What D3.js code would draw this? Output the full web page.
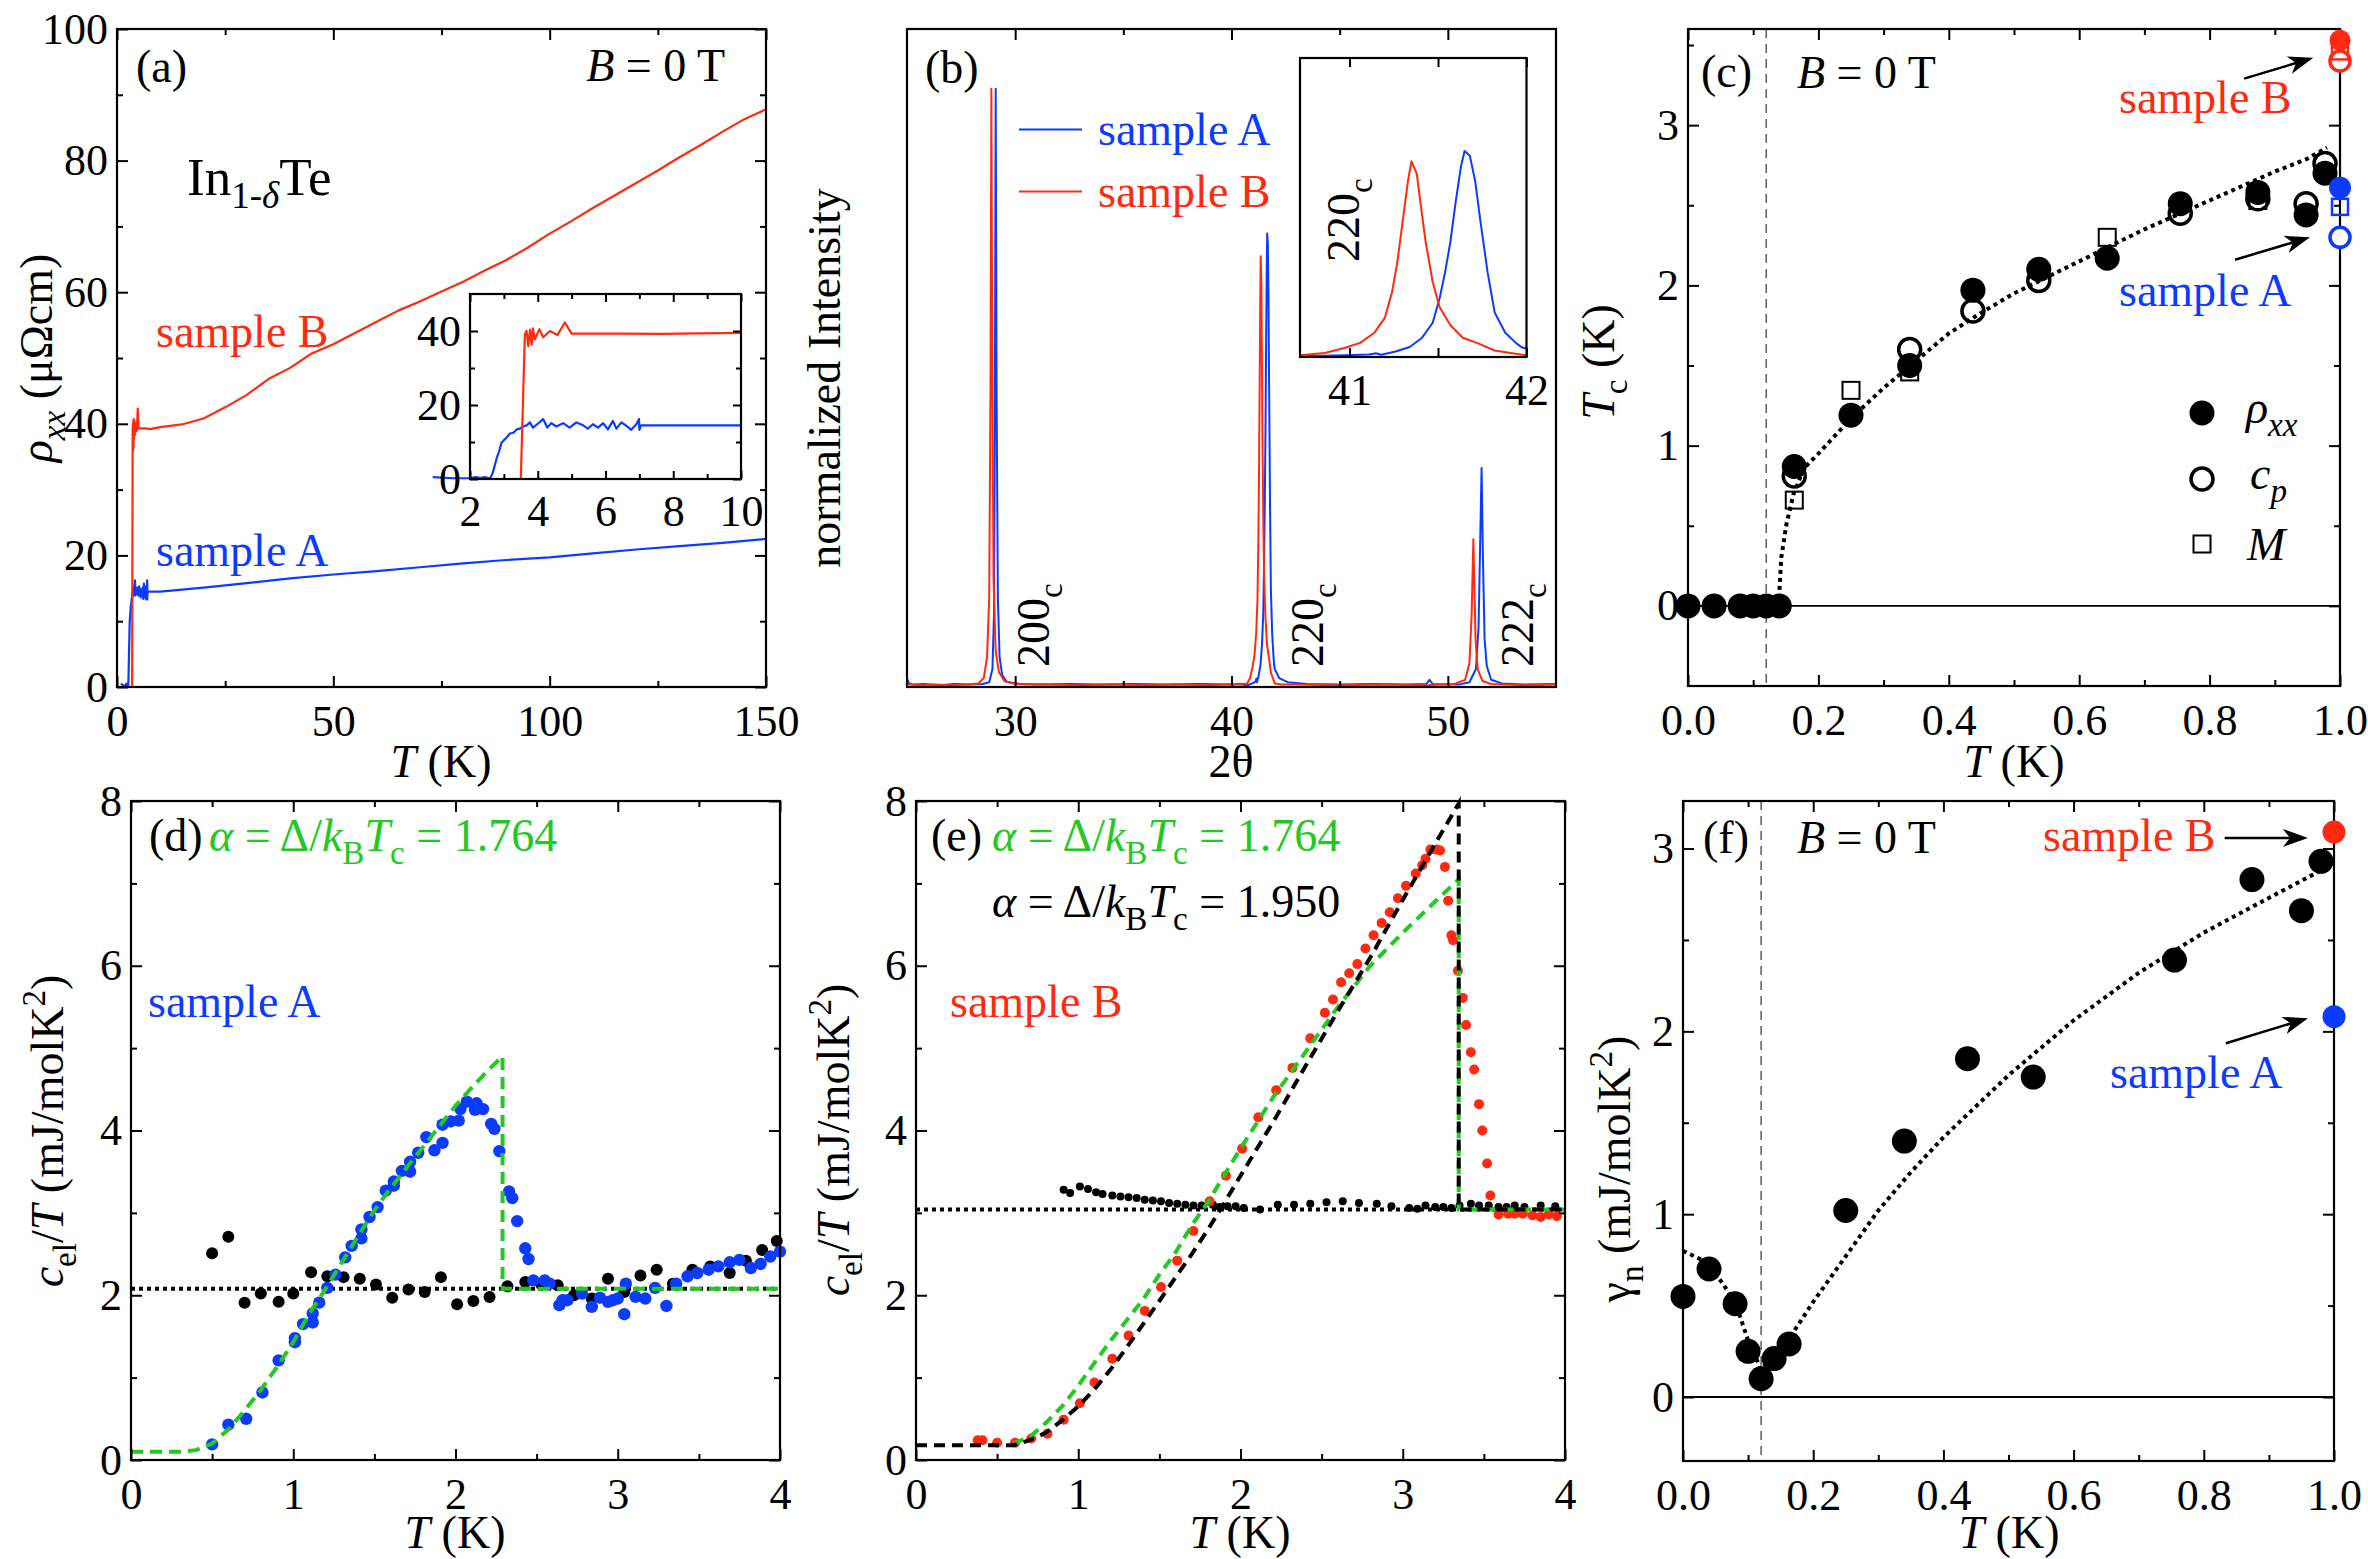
<!DOCTYPE html>
<html><head><meta charset="utf-8">
<script src="https://cdn.jsdelivr.net/npm/d3@7"></script>
<style>
html,body{margin:0;padding:0;background:#fff;}
svg{display:block;}
</style></head><body>
<svg id="chart" width="2368" height="1559"></svg>
<script>
// ================= DATA =================
// (a) rho_xx vs T  [T (K), rho (μΩcm)]
const rhoA_low = [[0.9,0.5],[1.5,0.2],[2.0,0.2],[2.15,0.5],[2.3,0.3],[2.45,0.5],[2.59,0.1],[2.67,1.6],[2.79,5.7],[2.86,7.5],[2.93,9.8],[3.0,10.5],[3.08,11.2],[3.18,12.3],[3.28,12.5],[3.38,13.4],[3.47,13.6],[3.57,14.2],[3.67,14.5],[3.77,15.3],[3.86,13.9],[4.01,15.0],[4.16,16.2],[4.28,13.9],[4.40,15.1],[4.55,14.2],[4.75,15.1],[4.94,13.9],[5.14,15.3],[5.34,14.5],[5.48,13.6],[5.63,14.8],[5.78,13.9],[5.93,15.1],[6.07,13.4],[6.22,15.7],[6.32,13.6],[6.47,15.3],[6.61,14.4],[6.76,13.3],[6.91,14.8],[6.99,16.2],[7.0,13.3],[7.05,14.5],[10,14.5]];
const rhoA_high = [[15,14.8],[20,15.1],[30,15.8],[40,16.5],[50,17.1],[60,17.6],[70,18.2],[80,18.8],[90,19.3],[100,19.7],[110,20.3],[120,20.9],[130,21.4],[140,21.9],[150,22.5]];
const rhoB_low = [[3.5,0],[3.62,39.1],[3.67,40.0],[3.72,35.9],[3.77,40.4],[3.82,36.3],[3.86,40.7],[3.91,37.7],[3.98,39.1],[4.05,40.5],[4.16,38.3],[4.36,40.0],[4.58,38.9],[4.80,42.3],[5.0,39.3],[6.6,39.3],[7.6,39.2],[10,39.5]];
const rhoB_high = [[15,39.9],[20,40.8],[25,42.5],[30,44.4],[35,46.8],[40,48.5],[45,50.7],[50,52.1],[55,53.8],[60,55.5],[65,57.2],[70,58.6],[75,60.1],[80,61.6],[85,63.3],[90,64.9],[95,66.8],[100,68.9],[105,70.8],[110,72.8],[115,74.7],[120,76.6],[125,78.5],[130,80.5],[135,82.4],[140,84.4],[145,86.3],[150,87.8]];

// (b) XRD [2θ, normalized intensity]
const xrdA_lo = [[25.0,0.014],[25.1,0.006],[25.3,0.004],[25.8,0.005],[26.5,0.003],[27.2,0.005],[27.9,0.004],[28.5,0.005],[28.8,0.008],[28.95,0.03],[29.02,0.12],[29.06,0.45],[29.1,1.0],[29.14,0.5],[29.2,0.15],[29.28,0.05],[29.4,0.02],[29.6,0.009],[30.2,0.005],[31,0.004],[32.5,0.005],[34,0.004],[35.5,0.005],[37,0.004],[38.5,0.005],[40,0.004],[40.5,0.004]];
const xrdA_220 = [[40.72,0.003],[40.97,0.006],[41.11,0.009],[41.15,0.014],[41.18,0.008],[41.26,0.02],[41.34,0.037],[41.41,0.071],[41.47,0.126],[41.51,0.219],[41.54,0.312],[41.57,0.424],[41.60,0.572],[41.63,0.702],[41.65,0.758],[41.68,0.74],[41.71,0.647],[41.74,0.498],[41.78,0.312],[41.82,0.164],[41.88,0.089],[41.94,0.052],[41.97,0.037],[42.0,0.03]];
const xrdA_hi = [[42.2,0.015],[42.6,0.008],[43.5,0.005],[45,0.004],[46.5,0.005],[48,0.004],[49.0,0.005],[49.15,0.012],[49.3,0.005],[50.5,0.004],[51.0,0.008],[51.3,0.03],[51.42,0.1],[51.5,0.25],[51.56,0.366],[51.62,0.22],[51.7,0.08],[51.8,0.035],[52.0,0.012],[52.5,0.006],[53.5,0.004],[55,0.005]];
const xrdB_lo = [[25.0,0.005],[25.5,0.003],[26.3,0.004],[27,0.003],[27.8,0.004],[28.3,0.006],[28.55,0.015],[28.7,0.05],[28.8,0.15],[28.86,0.5],[28.9,1.0],[28.94,0.55],[29.0,0.18],[29.1,0.06],[29.25,0.025],[29.5,0.01],[30,0.005],[31.5,0.004],[33,0.003],[34.5,0.004],[36,0.003],[37.5,0.004],[39,0.003],[40.2,0.005]];
const xrdB_220 = [[40.72,0.006],[40.86,0.015],[40.97,0.033],[41.06,0.052],[41.14,0.089],[41.20,0.145],[41.24,0.238],[41.27,0.349],[41.30,0.498],[41.33,0.647],[41.35,0.72],[41.38,0.674],[41.40,0.572],[41.43,0.424],[41.47,0.275],[41.51,0.182],[41.57,0.117],[41.64,0.071],[41.72,0.052],[41.82,0.024],[41.91,0.015],[42.0,0.006]];
const xrdB_hi = [[42.3,0.004],[43,0.004],[45,0.003],[47,0.004],[49,0.003],[50.3,0.005],[50.8,0.012],[51.0,0.04],[51.1,0.12],[51.15,0.2],[51.18,0.247],[51.22,0.18],[51.28,0.08],[51.38,0.03],[51.6,0.01],[52,0.005],[53.5,0.003],[55,0.004]];
const peakNames = ["200","220","222"];
const peakLabelX = [31.55, 44.25, 53.95];

// (c) Tc [x, Tc (K)]
const tcRhoX = [0.0,0.04,0.08,0.10,0.12,0.14,0.163,0.25,0.34,0.437,0.538,0.643,0.755,0.874,0.948,0.977];
const tcRhoY = [0,0,0,0,0,0,0.87,1.19,1.50,1.97,2.10,2.17,2.51,2.58,2.44,2.70];
const tcCpX = [0.163,0.34,0.437,0.538,0.755,0.874,0.948,0.977];
const tcCpY = [0.81,1.60,1.84,2.03,2.45,2.54,2.51,2.76];
const tcMX = [0.163,0.25,0.34,0.643,0.874];
const tcMY = [0.66,1.345,1.46,2.30,2.53];
const tcSampleB = {rho:3.53, M:3.46, cp:3.40};
const tcSampleA = {rho:2.61, M:2.49, cp:2.30};
const tcFit = [[0.139,0.0],[0.143,0.3],[0.151,0.51],[0.162,0.70],[0.178,0.86],[0.2,0.95],[0.25,1.17],[0.3,1.36],[0.35,1.53],[0.4,1.70],[0.45,1.83],[0.5,1.95],[0.55,2.05],[0.6,2.15],[0.65,2.25],[0.7,2.35],[0.75,2.44],[0.8,2.53],[0.85,2.62],[0.9,2.71],[0.95,2.79],[0.98,2.86]];

// (d) sample A c_el/T [T (K), mJ/molK^2]
const dBlue = [[0.50,0.19],[0.60,0.43],[0.71,0.50],[0.81,0.82],[0.91,1.21],[1.01,1.48],[1.01,1.43],[1.06,1.65],[1.12,1.67],[1.12,1.78],[1.16,1.91],[1.21,2.09],[1.26,2.25],[1.32,2.46],[1.36,2.60],[1.42,2.80],[1.42,2.69],[1.47,2.95],[1.52,3.07],[1.57,3.27],[1.62,3.38],[1.62,3.33],[1.67,3.51],[1.72,3.50],[1.72,3.62],[1.77,3.73],[1.82,3.92],[1.87,3.76],[1.92,3.85],[1.92,4.07],[1.97,4.11],[2.02,4.12],[2.03,4.26],[2.07,4.35],[2.12,4.25],[2.13,4.33],[2.17,4.26],[2.22,4.08],[2.24,4.02],[2.27,3.75],[2.33,3.26],[2.35,3.18],[2.38,2.90],[2.43,2.57],[2.45,2.44],[2.48,2.18],[2.55,2.18],[2.58,2.14],[2.64,1.88],[2.66,1.94],[2.69,1.94],[2.78,2.02],[2.84,1.86],[2.89,1.97],[2.94,1.92],[2.97,1.94],[3.00,1.96],[3.04,1.77],[3.05,2.14],[3.11,1.98],[3.17,1.96],[3.23,2.09],[3.30,1.87],[3.36,2.14],[3.43,2.23],[3.49,2.27],[3.56,2.31],[3.62,2.35],[3.69,2.40],[3.75,2.43],[3.82,2.33],[3.88,2.38],[3.94,2.47],[4.00,2.53]];
const dBlack = [[0.50,2.51],[0.60,2.71],[0.70,1.91],[0.80,2.02],[0.91,1.92],[1.00,2.02],[1.11,2.28],[1.21,2.23],[1.31,2.22],[1.41,2.20],[1.51,2.13],[1.61,1.97],[1.71,2.07],[1.81,2.04],[1.91,2.22],[2.01,1.89],[2.11,1.93],[2.21,1.98],[2.32,2.11],[2.43,2.16],[2.53,2.13],[2.63,2.12],[2.73,2.00],[2.84,1.96],[2.94,2.20],[3.04,2.04],[3.14,2.24],[3.24,2.31],[3.34,2.14],[3.46,2.31],[3.57,2.35],[3.69,2.27],[3.79,2.42],[3.89,2.55],[3.98,2.66]];
const dGammaN = 2.08;
const dBCS = [[0,0.1],[0.3,0.1],[0.4,0.12],[0.5,0.2],[0.6,0.37],[0.7,0.6],[0.8,0.85],[0.9,1.13],[1.0,1.43],[1.1,1.78],[1.2,2.08],[1.3,2.4],[1.4,2.72],[1.5,3.03],[1.6,3.3],[1.7,3.55],[1.8,3.8],[1.9,4.05],[2.0,4.3],[2.1,4.52],[2.2,4.73],[2.29,4.9],[2.29,2.08],[4.0,2.08]];

// (e) sample B
const eRed = [[0.38,0.24],[0.41,0.24],[0.50,0.21],[0.61,0.21],[0.71,0.26],[0.81,0.32],[0.91,0.49],[1.01,0.69],[1.10,0.94],[1.21,1.23],[1.31,1.51],[1.41,1.81],[1.51,2.10],[1.61,2.42],[1.71,2.78],[1.81,3.14],[1.91,3.45],[2.01,3.78],[2.11,4.16],[2.22,4.49],[2.32,4.76],[2.43,5.12],[2.52,5.43],[2.57,5.59],[2.62,5.80],[2.67,5.91],[2.72,6.02],[2.77,6.21],[2.82,6.37],[2.87,6.52],[2.92,6.65],[2.97,6.82],[3.02,6.97],[3.08,7.12],[3.12,7.22],[3.14,7.30],[3.17,7.41],[3.21,7.41],[3.23,7.40],[3.26,7.20],[3.28,6.79],[3.30,6.37],[3.31,6.31],[3.34,5.94],[3.37,5.61],[3.39,5.28],[3.42,4.95],[3.44,4.74],[3.47,4.32],[3.49,4.00],[3.52,3.60],[3.54,3.21],[3.59,2.98],[3.65,2.99],[3.69,2.99],[3.74,2.99],[3.80,2.97],[3.85,2.95],[3.90,2.98],[3.95,2.96]];
const eBlack = [[0.91,3.28],[0.95,3.24],[1.01,3.32],[1.06,3.29],[1.11,3.25],[1.15,3.23],[1.21,3.21],[1.26,3.20],[1.31,3.19],[1.36,3.18],[1.41,3.16],[1.46,3.15],[1.51,3.14],[1.56,3.12],[1.61,3.11],[1.66,3.10],[1.71,3.09],[1.76,3.09],[1.83,3.10],[1.87,3.07],[1.92,3.08],[1.97,3.08],[2.02,3.06],[2.12,3.04],[2.23,3.10],[2.33,3.10],[2.43,3.11],[2.53,3.13],[2.63,3.14],[2.73,3.12],[2.84,3.11],[2.93,3.08],[3.04,3.06],[3.09,3.05],[3.14,3.09],[3.20,3.07],[3.25,3.07],[3.30,3.06],[3.35,3.09],[3.42,3.11],[3.47,3.09],[3.53,3.09],[3.59,3.07],[3.64,3.07],[3.69,3.09],[3.75,3.07],[3.85,3.09],[3.94,3.08]];
const eGammaN = 3.04;
const eBCS1764 = [[0.6,0.2],[0.7,0.28],[0.8,0.45],[0.9,0.65],[1.0,0.9],[1.1,1.18],[1.2,1.45],[1.3,1.7],[1.4,1.95],[1.5,2.25],[1.6,2.52],[1.7,2.85],[1.8,3.13],[1.9,3.46],[2.0,3.78],[2.2,4.4],[2.4,4.95],[2.6,5.5],[2.8,6.0],[3.0,6.4],[3.2,6.78],[3.345,7.05],[3.345,3.04],[4.0,3.04]];
const eBCS1950 = [[0,0.18],[0.6,0.18],[0.7,0.24],[0.8,0.33],[0.9,0.48],[1.0,0.65],[1.1,0.86],[1.2,1.1],[1.3,1.37],[1.4,1.65],[1.5,1.93],[1.6,2.22],[1.7,2.5],[1.8,2.8],[1.9,3.12],[2.0,3.45],[2.2,4.1],[2.4,4.78],[2.6,5.45],[2.8,6.1],[3.0,6.8],[3.2,7.48],[3.345,7.97],[3.345,3.04],[4.0,3.04]];

// (f) gamma_n
const gX = [0.0,0.04,0.08,0.10,0.12,0.14,0.163,0.25,0.34,0.437,0.538,0.755,0.874,0.95,0.98];
const gY = [0.55,0.70,0.51,0.25,0.10,0.21,0.29,1.02,1.40,1.85,1.75,2.39,2.83,2.66,2.93];
const gSampleB = 3.09, gSampleA = 2.08;
const gFit = [[0.0,0.80],[0.04,0.73],[0.08,0.52],[0.10,0.31],[0.12,0.15],[0.165,0.33],[0.2,0.52],[0.25,0.77],[0.3,1.02],[0.35,1.23],[0.4,1.42],[0.5,1.76],[0.6,2.06],[0.7,2.32],[0.8,2.54],[0.9,2.73],[0.98,2.88]];

// ================= DRAWING =================
const RED="#ff2a10", BLUE="#0b3bff", GREEN="#24c824", GREY="#666";
const FONT='"Liberation Serif","Times New Roman",Times,serif';
const svg=d3.select("#chart");
svg.append("rect").attr("width",2368).attr("height",1559).attr("fill","#fff");

function panel(o){
  const x=d3.scaleLinear().domain(o.xd).range([o.x0,o.x1]);
  const y=d3.scaleLinear().domain(o.yd).range([o.y1,o.y0]);
  const root=svg.append("g");
  if(o.bg) root.append("rect").attr("x",o.x0).attr("y",o.y0).attr("width",o.x1-o.x0).attr("height",o.y1-o.y0).attr("fill","#fff");
  const data=root.append("g");
  const axes=root.append("g");
  const blank=()=>"";
  function ax(fn,sc,vals,len,tr,fmt,pad){
    if(!vals||!vals.length) return;
    const a=fn(sc).tickValues(vals).tickSize(-len).tickPadding(pad||0).tickFormat(fmt||blank);
    const g=axes.append("g").attr("transform",tr).call(a);
    g.select(".domain").remove();
    g.selectAll(".tick line").attr("stroke","#000").attr("stroke-width",2);
    g.selectAll(".tick text").attr("font-family",FONT).attr("font-size",44).attr("fill","#000");
  }
  const M=o.major||11, m=o.minor||6;
  ax(d3.axisBottom,x,o.xMaj,M,`translate(0,${o.y1})`,o.xFmt,o.xPad||18);
  ax(d3.axisBottom,x,o.xMin,m,`translate(0,${o.y1})`);
  ax(d3.axisTop,x,o.xMaj,M,`translate(0,${o.y0})`);
  ax(d3.axisTop,x,o.xMin,m,`translate(0,${o.y0})`);
  ax(d3.axisLeft,y,o.yMaj,M,`translate(${o.x0},0)`,o.yFmt,9);
  ax(d3.axisLeft,y,o.yMin,m,`translate(${o.x0},0)`);
  ax(d3.axisRight,y,o.yMaj,M,`translate(${o.x1},0)`);
  ax(d3.axisRight,y,o.yMin,m,`translate(${o.x1},0)`);
  axes.append("rect").attr("x",o.x0).attr("y",o.y0).attr("width",o.x1-o.x0).attr("height",o.y1-o.y0)
    .attr("fill","none").attr("stroke","#000").attr("stroke-width",2.2);
  const top=root.append("g");
  return {x,y,data,top,root};
}

function rich(parent,x,y,parts,o={}){
  const fs=o.size||46;
  const t=parent.append("text").attr("x",x).attr("y",y).attr("font-family",FONT)
    .attr("font-size",fs).attr("fill",o.fill||"#000").attr("text-anchor",o.anchor||"start");
  if(o.transform) t.attr("transform",o.transform);
  let shift=0;
  parts.forEach(p=>{
    const s=typeof p==="string"?p:p[0];
    const st=(typeof p==="string"?null:p[1])||{};
    const ts=t.append("tspan").text(s);
    let target=0;
    if(st.sub) target=fs*(o.subShift||0.28);
    if(st.sup) target=-fs*0.4;
    const dy=target-shift; shift=target;
    if(dy) ts.attr("dy",dy);
    if(st.sub||st.sup) ts.attr("font-size",fs*(o.subSize||0.72));
    if(st.i) ts.attr("font-style","italic");
    if(st.fill) ts.attr("fill",st.fill);
  });
  return t;
}
function line(P,pts,attrs){
  const p=P.data.append("path").datum(pts).attr("fill","none")
    .attr("d",d3.line().x(d=>P.x(d[0])).y(d=>P.y(d[1])));
  Object.entries(attrs).forEach(([k,v])=>p.attr(k,v));
  return p;
}
function dots(g,P,pts,r,fill,stroke,sw){
  g.selectAll(null).data(pts).enter().append("circle")
    .attr("cx",d=>P.x(d[0])).attr("cy",d=>P.y(d[1])).attr("r",r)
    .attr("fill",fill).attr("stroke",stroke||"none").attr("stroke-width",sw||0);
}
function squares(g,P,pts,s,stroke,sw){
  g.selectAll(null).data(pts).enter().append("rect")
    .attr("x",d=>P.x(d[0])-s/2).attr("y",d=>P.y(d[1])-s/2).attr("width",s).attr("height",s)
    .attr("fill","none").attr("stroke",stroke).attr("stroke-width",sw);
}
function arrow(g,x1,y1,x2,y2){
  const a=Math.atan2(y2-y1,x2-x1), L=25, W=9, N=7;
  const dx=Math.cos(a), dy=Math.sin(a), px=-dy, py=dx;
  g.append("line").attr("x1",x1).attr("y1",y1).attr("x2",x2-dx*(L-N)).attr("y2",y2-dy*(L-N))
    .attr("stroke","#000").attr("stroke-width",2.5);
  const pts=[[x2,y2],[x2-dx*L+px*W,y2-dy*L+py*W],[x2-dx*(L-N),y2-dy*(L-N)],[x2-dx*L-px*W,y2-dy*L-py*W]];
  g.append("path").attr("d","M"+pts.map(p=>p.join(",")).join("L")+"Z").attr("fill","#000");
}
function xTitle(P,cx,by,parts){ rich(svg,cx,by,parts,{anchor:"middle"}); }
function yTitle(bx,cy,parts){ rich(svg,0,0,parts,{anchor:"middle",transform:`translate(${bx},${cy}) rotate(-90)`}); }
const TK=[["T",{i:true}]," (K)"];

// ---------- (a) ----------
const A=panel({x0:117,x1:766,y0:29,y1:687,xd:[0,150],yd:[0,100],
  xMaj:[0,50,100,150],xMin:[25,75,125],yMaj:[0,20,40,60,80,100],yMin:[10,30,50,70,90],
  xFmt:d3.format("d"),yFmt:d3.format("d")});
line(A,rhoA_low.concat(rhoA_high),{stroke:BLUE,"stroke-width":2.2,"stroke-linejoin":"round"});
line(A,rhoB_low.concat(rhoB_high),{stroke:RED,"stroke-width":2.2,"stroke-linejoin":"round"});
rich(svg,136,82,["(a)"]);
rich(svg,725,81,[["B",{i:true}]," = 0 T"],{anchor:"end"});
rich(svg,187,195,["In",["1-",{sub:true}],["δ",{sub:true,i:true}],"Te"],{size:53,subShift:0.24,subSize:0.7});
rich(svg,156,347,["sample B"],{fill:RED});
rich(svg,156,566,["sample A"],{fill:BLUE});
xTitle(A,441,777,TK);
yTitle(52,358,[["ρ",{i:true}],["xx",{sub:true,i:true}]," (μΩcm)"]);
// inset (a)
const AI=panel({x0:470,x1:741,y0:294,y1:479,xd:[2,10],yd:[0,50],bg:true,
  xMaj:[2,4,6,8,10],xMin:[3,5,7,9],yMaj:[0,20,40],yMin:[10,30],major:8,minor:5,xPad:16,
  xFmt:d3.format("d"),yFmt:d3.format("d")});
line(AI,rhoA_low,{stroke:BLUE,"stroke-width":2.2,"stroke-linejoin":"round"});
line(AI,rhoB_low,{stroke:RED,"stroke-width":2.2,"stroke-linejoin":"round"});

// ---------- (b) ----------
const B=panel({x0:907,x1:1556,y0:29,y1:687,xd:[25,55],yd:[0,1.1],
  xMaj:[30,40,50],xMin:[35,45],xFmt:d3.format("d")});
line(B,xrdA_lo.concat(xrdA_220,xrdA_hi),{stroke:BLUE,"stroke-width":2,"stroke-linejoin":"round"});
line(B,xrdB_lo.concat(xrdB_220,xrdB_hi),{stroke:RED,"stroke-width":2,"stroke-linejoin":"round"});
peakNames.forEach((n,i)=>{
  rich(svg,0,0,[n,["c",{sub:true}]],{transform:`translate(${B.x(peakLabelX[i])},667) rotate(-90)`});
});
rich(svg,925,83,["(b)"]);
svg.append("line").attr("x1",1019).attr("x2",1082).attr("y1",129.5).attr("y2",129.5).attr("stroke",BLUE).attr("stroke-width",2);
svg.append("line").attr("x1",1019).attr("x2",1082).attr("y1",191.5).attr("y2",191.5).attr("stroke",RED).attr("stroke-width",2);
rich(svg,1098,145,["sample A"],{fill:BLUE});
rich(svg,1098,207,["sample B"],{fill:RED});
xTitle(B,1231,777,["2θ"]);
yTitle(840,378,["normalized Intensity"]);
// inset (b)
const BI=panel({x0:1300,x1:1526.5,y0:58,y1:357,xd:[40.72,42],yd:[0,1.1],bg:true,
  xMaj:[41,42],xMin:[41.5],major:9,minor:9,xPad:17,xFmt:d3.format("d")});
line(BI,xrdA_220,{stroke:BLUE,"stroke-width":2,"stroke-linejoin":"round"});
line(BI,xrdB_220,{stroke:RED,"stroke-width":2,"stroke-linejoin":"round"});
rich(svg,0,0,["220",["c",{sub:true}]],{transform:"translate(1359,262) rotate(-90)"});

// ---------- (c) ----------
const C=panel({x0:1688,x1:2340,y0:29,y1:686,xd:[0,1],yd:[-0.5,3.6],
  xMaj:[0,0.2,0.4,0.6,0.8,1.0],xMin:[0.1,0.3,0.5,0.7,0.9],yMaj:[0,1,2,3],yMin:[0.5,1.5,2.5,3.5],
  xFmt:d3.format(".1f"),yFmt:d3.format("d")});
C.data.append("line").attr("x1",C.x(0.12)).attr("x2",C.x(0.12)).attr("y1",29).attr("y2",686)
  .attr("stroke",GREY).attr("stroke-width",1.6).attr("stroke-dasharray","9,6");
C.data.append("line").attr("x1",C.x(0)).attr("x2",C.x(1)).attr("y1",C.y(0)).attr("y2",C.y(0)).attr("stroke","#000").attr("stroke-width",1.8);
line(C,tcFit,{stroke:"#000","stroke-width":4,"stroke-dasharray":"4,4"});
squares(C.data,C,tcMX.map((v,i)=>[v,tcMY[i]]),17,"#000",2);
dots(C.data,C,tcCpX.map((v,i)=>[v,tcCpY[i]]),11,"none","#000",3.5);
dots(C.data,C,tcRhoX.map((v,i)=>[v,tcRhoY[i]]),12.5,"#000");
// samples at x = 1
dots(C.top,C,[[1,tcSampleB.cp]],10,"#fff",RED,3.5);
squares(C.top,C,[[1,tcSampleB.M]],16,RED,2.5);
dots(C.top,C,[[1,tcSampleB.rho]],10.5,RED);
dots(C.top,C,[[1,tcSampleA.cp]],10,"#fff",BLUE,3.5);
squares(C.top,C,[[1,tcSampleA.M]],16,BLUE,2.5);
dots(C.top,C,[[1,tcSampleA.rho]],11,BLUE);
arrow(C.top,C.x(0.853),C.y(3.29),C.x(0.959),C.y(3.42));
arrow(C.top,C.x(0.839),C.y(2.16),C.x(0.954),C.y(2.30));
rich(svg,1701,87,["(c)"]);
rich(svg,1797,88,[["B",{i:true}]," = 0 T"]);
rich(svg,2119,113,["sample B"],{fill:RED});
rich(svg,2119,306,["sample A"],{fill:BLUE});
// legend
svg.append("circle").attr("cx",2202).attr("cy",413).attr("r",12.5).attr("fill","#000");
svg.append("circle").attr("cx",2202).attr("cy",479).attr("r",11).attr("fill","none").attr("stroke","#000").attr("stroke-width",3.5);
svg.append("rect").attr("x",2202-8.5).attr("y",544-8.5).attr("width",17).attr("height",17).attr("fill","none").attr("stroke","#000").attr("stroke-width",2);
rich(svg,2246,423,[["ρ",{i:true}],["xx",{sub:true,i:true}]]);
rich(svg,2250,489,[["c",{i:true}],["p",{sub:true,i:true}]]);
rich(svg,2247,560,[["M",{i:true}]]);
xTitle(C,2014,777,TK);
yTitle(1614,362,[["T",{i:true}],["c",{sub:true}]," (K)"]);

// ---------- (d) ----------
const D=panel({x0:131,x1:780,y0:801,y1:1460,xd:[0,4],yd:[0,8],
  xMaj:[0,1,2,3,4],xMin:[0.5,1.5,2.5,3.5],yMaj:[0,2,4,6,8],yMin:[1,3,5,7],
  xFmt:d3.format("d"),yFmt:d3.format("d")});
line(D,[[0,dGammaN],[4,dGammaN]],{stroke:"#000","stroke-width":4,"stroke-dasharray":"4,4"});
dots(D.data,D,dBlack,6,"#000");
dots(D.data,D,dBlue,6.2,BLUE);
line(D,dBCS,{stroke:GREEN,"stroke-width":4,"stroke-dasharray":"12,7"});
rich(svg,149,851,["(d)"]);
const alphaParts=[["α",{i:true}]," = Δ/",["k",{i:true}],["B",{sub:true}],["T",{i:true}],["c",{sub:true}]];
rich(svg,209,851,alphaParts.concat([" = 1.764"]),{fill:GREEN});
rich(svg,148,1017,["sample A"],{fill:BLUE});
xTitle(D,455,1548,TK);
const celParts=[["c",{i:true}],["el",{sub:true}],"/",["T",{i:true}]," (mJ/molK",["2",{sup:true}],")"];
yTitle(63,1131,celParts);

// ---------- (e) ----------
const E=panel({x0:916,x1:1565,y0:801,y1:1460,xd:[0,4],yd:[0,8],
  xMaj:[0,1,2,3,4],xMin:[0.5,1.5,2.5,3.5],yMaj:[0,2,4,6,8],yMin:[1,3,5,7],
  xFmt:d3.format("d"),yFmt:d3.format("d")});
line(E,[[0,eGammaN],[4,eGammaN]],{stroke:"#000","stroke-width":4,"stroke-dasharray":"4,4"});
dots(E.data,E,eBlack,4,"#000");
dots(E.data,E,eRed,5,RED);
line(E,eBCS1764,{stroke:GREEN,"stroke-width":4,"stroke-dasharray":"11,7"});
line(E,eBCS1950,{stroke:"#000","stroke-width":4,"stroke-dasharray":"11,7"});
rich(svg,931,851,["(e)"]);
rich(svg,992,851,alphaParts.concat([" = 1.764"]),{fill:GREEN});
rich(svg,992,917,alphaParts.concat([" = 1.950"]));
rich(svg,950,1017,["sample B"],{fill:RED});
xTitle(E,1240,1548,TK);
yTitle(849,1140,celParts);

// ---------- (f) ----------
const F=panel({x0:1683,x1:2334,y0:801,y1:1461,xd:[0,1],yd:[-0.35,3.26],
  xMaj:[0,0.2,0.4,0.6,0.8,1.0],xMin:[0.1,0.3,0.5,0.7,0.9],yMaj:[0,1,2,3],yMin:[0.5,1.5,2.5],
  xFmt:d3.format(".1f"),yFmt:d3.format("d")});
F.data.append("line").attr("x1",F.x(0.12)).attr("x2",F.x(0.12)).attr("y1",801).attr("y2",1461)
  .attr("stroke",GREY).attr("stroke-width",1.6).attr("stroke-dasharray","9,6");
F.data.append("line").attr("x1",F.x(0)).attr("x2",F.x(1)).attr("y1",F.y(0)).attr("y2",F.y(0)).attr("stroke","#000").attr("stroke-width",1.8);
line(F,gFit,{stroke:"#000","stroke-width":4,"stroke-dasharray":"4,4"});
dots(F.data,F,gX.map((v,i)=>[v,gY[i]]),12.5,"#000");
dots(F.top,F,[[1,gSampleB]],11.5,RED);
dots(F.top,F,[[1,gSampleA]],11.5,BLUE);
arrow(F.top,F.x(0.832),F.y(3.058),F.x(0.96),F.y(3.058));
arrow(F.top,F.x(0.834),F.y(1.935),F.x(0.96),F.y(2.072));
rich(svg,1703,853,["(f)"]);
rich(svg,1797,853,[["B",{i:true}]," = 0 T"]);
rich(svg,2043,851,["sample B"],{fill:RED});
rich(svg,2110,1088,["sample A"],{fill:BLUE});
xTitle(F,2009,1548,TK);
yTitle(1630,1169,["γ",["n",{sub:true}]," (mJ/molK",["2",{sup:true}],")"]);
</script></body></html>
